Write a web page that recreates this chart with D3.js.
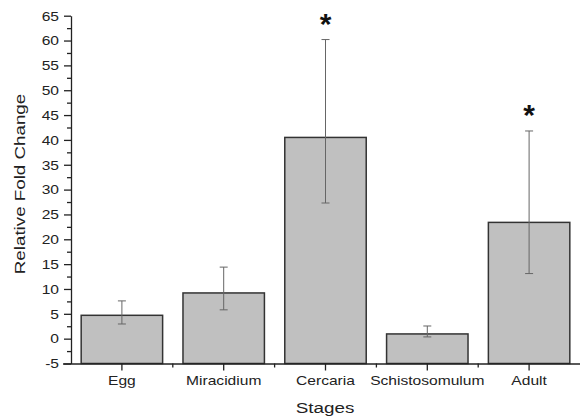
<!DOCTYPE html>
<html>
<head>
<meta charset="UTF-8">
<script src="https://d3js.org/d3.v7.min.js"></script>
<style>
  body { margin: 0; background: #fff; }
  svg text { font-family: Arial, "Liberation Sans", sans-serif; }
</style>
</head>
<body>
<svg width="581" height="420"></svg>
<script>
  const stages = ["Egg", "Miracidium", "Cercaria", "Schistosomulum", "Adult"];
  const means = [4.7, 9.2, 40.5, 0.95, 23.4];
  const upper = [7.6, 14.4, 60.2, 2.55, 41.8];
  const lower = [2.95, 5.8, 27.3, 0.35, 13.1];
  const significant = [false, false, true, false, true];
  const yTicks = d3.range(-5, 66, 5);

  const svg = d3.select("svg");
  const x = d3.scaleBand().domain(stages).range([71, 580]).paddingInner(0.2).paddingOuter(0.1);
  const y = d3.scaleLinear().domain([-5, 65]).range([363.5, 15.7]);
  const stretch = 1.3; // text in the picture is wider than tall

  // bars
  svg.selectAll("rect.bar").data(stages).enter().append("rect")
    .attr("x", d => x(d))
    .attr("y", (d, i) => y(means[i]))
    .attr("width", x.bandwidth())
    .attr("height", (d, i) => y(-5) - y(means[i]))
    .attr("fill", "#c0c0c0")
    .attr("stroke", "#333")
    .attr("stroke-width", 1.5);

  // error bars
  const cx = d => x(d) + x.bandwidth() / 2;
  const eb = svg.append("g").attr("stroke", "#666").attr("stroke-width", 1);
  stages.forEach((d, i) => {
    eb.append("line").attr("x1", cx(d)).attr("x2", cx(d)).attr("y1", y(upper[i])).attr("y2", y(lower[i]));
    [upper[i], lower[i]].forEach(v => {
      eb.append("line").attr("x1", cx(d) - 4).attr("x2", cx(d) + 4).attr("y1", y(v)).attr("y2", y(v));
    });
    if (significant[i]) {
      svg.append("text").attr("x", cx(d)).attr("y", y(upper[i]) - 6)
        .attr("text-anchor", "middle").attr("font-size", 30).attr("font-weight", "bold")
        .attr("fill", "#111").text("*");
    }
  });

  // y axis
  const yAxis = svg.append("g").attr("transform", "translate(71,0)")
    .call(d3.axisLeft(y).tickValues(yTicks).tickSize(7).tickSizeOuter(0).tickFormat(d => String(d)));
  yAxis.append("g").call(d3.axisLeft(y).tickValues(d3.range(-2.5, 65, 5)).tickSize(4).tickFormat(""))
    .select(".domain").remove();

  // x axis
  const xAxis = svg.append("g").attr("transform", "translate(0,363.5)")
    .call(d3.axisBottom(x).tickSize(7).tickSizeOuter(0));
  xAxis.select(".domain").attr("d", "M63,0.5H580");
  const xMinor = stages.slice(1).map(d => x(d) - x.step() * x.paddingInner() / 2);
  xAxis.selectAll("line.minor").data(xMinor).enter().append("line")
    .attr("class", "minor").attr("x1", d => d).attr("x2", d => d).attr("y1", 0).attr("y2", 4);

  [yAxis, xAxis].forEach(g => {
    g.selectAll(".domain, line").attr("stroke", "#222").attr("stroke-width", 1.3);
    g.selectAll("text").attr("font-size", 12).attr("fill", "#222").style("font-family", "Arial, sans-serif");
  });
  yAxis.selectAll(".tick text").attr("x", -12 / stretch).attr("dy", "0.36em")
    .attr("transform", `scale(${stretch},1)`);
  xAxis.selectAll(".tick text").attr("y", 13).attr("transform", `scale(${stretch},1)`);

  // labels
  svg.append("text").attr("transform", "translate(25,184) rotate(-90) scale(1.34,1)")
    .attr("text-anchor", "middle").attr("font-size", 14).attr("fill", "#222").text("Relative Fold Change");
  svg.append("text").attr("transform", `translate(325,413) scale(${stretch},1)`)
    .attr("text-anchor", "middle").attr("font-size", 14.5).attr("fill", "#222").text("Stages");
</script>
</body>
</html>
